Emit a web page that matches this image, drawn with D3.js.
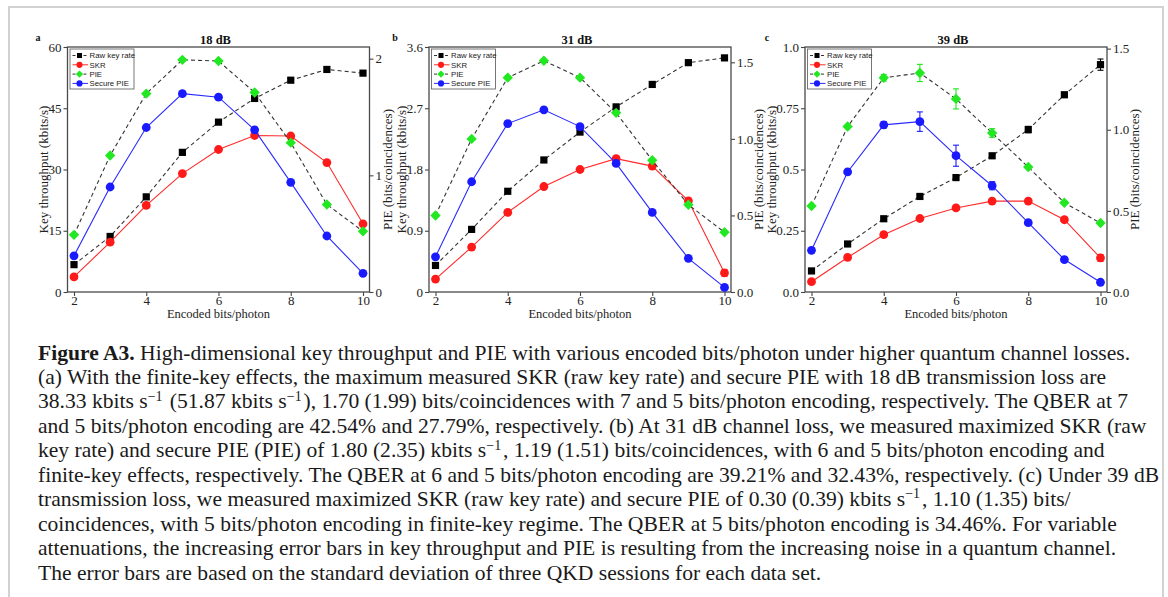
<!DOCTYPE html>
<html>
<head>
<meta charset="utf-8">
<script src="https://cdn.jsdelivr.net/npm/d3@7"></script>
<style>
  html, body { margin: 0; padding: 0; background: #fff; }
  svg { display: block; }
</style>
</head>
<body>
<svg id="fig" width="1168" height="597"></svg>
<script>
// Encoded bits per photon (shared x values)
const bits = [2, 3, 4, 5, 6, 7, 8, 9, 10];
const xTicks = [2, 4, 6, 8, 10];
const seriesNames = ["Raw key rate", "SKR", "PIE", "Secure PIE"];

// (a) 18 dB — key throughput in kbits/s, PIE in bits/coincidences
const rawA  = [6.7, 13.6, 23.3, 34.2, 41.6, 47.4, 51.87, 54.5, 53.6];
const skrA  = [3.7, 12.2, 21.2, 29.0, 34.9, 38.33, 38.2, 31.7, 16.7];
const pieA  = [0.49, 1.17, 1.70, 1.99, 1.98, 1.71, 1.28, 0.75, 0.52];
const spieA = [0.31, 0.90, 1.41, 1.70, 1.67, 1.39, 0.94, 0.48, 0.16];
const rawErrA  = [0, 0, 0, 0, 0, 0, 0, 0, 0];
const skrErrA  = [0, 0, 0, 0, 0, 0, 0, 0, 0];
const pieErrA  = [0, 0, 0, 0, 0, 0, 0, 0, 0];
const spieErrA = [0, 0, 0, 0, 0, 0, 0, 0, 0];
const leftTicksA  = [0, 15, 30, 45, 60];
const rightTicksA = [0, 1, 2];

// (b) 31 dB
const rawB  = [0.39, 0.92, 1.48, 1.94, 2.35, 2.72, 3.05, 3.37, 3.44];
const skrB  = [0.19, 0.66, 1.17, 1.55, 1.80, 1.96, 1.85, 1.34, 0.28];
const pieB  = [0.50, 1.00, 1.40, 1.51, 1.40, 1.17, 0.86, 0.57, 0.39];
const spieB = [0.23, 0.72, 1.10, 1.19, 1.08, 0.84, 0.52, 0.22, 0.03];
const rawErrB  = [0, 0, 0, 0, 0, 0, 0, 0, 0];
const skrErrB  = [0, 0, 0, 0, 0, 0.035, 0, 0.04, 0.05];
const pieErrB  = [0, 0, 0, 0, 0, 0, 0, 0, 0];
const spieErrB = [0, 0, 0, 0.016, 0, 0, 0, 0, 0];
const leftTicksB  = [0, 0.9, 1.8, 2.7, 3.6];
const rightTicksB = [0, 0.5, 1.0, 1.5];

// (c) 39 dB
const rawC  = [0.086, 0.196, 0.299, 0.39, 0.467, 0.556, 0.663, 0.805, 0.928];
const skrC  = [0.042, 0.141, 0.234, 0.30, 0.343, 0.371, 0.371, 0.295, 0.139];
const pieC  = [0.53, 1.02, 1.32, 1.35, 1.19, 0.98, 0.77, 0.55, 0.425];
const spieC = [0.257, 0.74, 1.03, 1.05, 0.84, 0.655, 0.427, 0.20, 0.06];
const rawErrC  = [0, 0, 0, 0, 0, 0, 0.013, 0.01, 0.023];
const skrErrC  = [0, 0, 0, 0, 0, 0, 0.01, 0.008, 0.014];
const pieErrC  = [0, 0, 0.02, 0.053, 0.062, 0.027, 0, 0, 0];
const spieErrC = [0, 0, 0.02, 0.06, 0.065, 0.025, 0, 0, 0];
const leftTicksC  = [0, 0.25, 0.5, 0.75, 1.0];
const rightTicksC = [0, 0.5, 1.0, 1.5];

// Caption, one entry per printed line; "^-1" marks a superscript −1
const captionLines = [
  "High-dimensional key throughput and PIE with various encoded bits/photon under higher quantum channel losses.",
  "(a) With the finite-key effects, the maximum measured SKR (raw key rate) and secure PIE with 18 dB transmission loss are",
  "38.33 kbits s^-1 (51.87 kbits s^-1), 1.70 (1.99) bits/coincidences with 7 and 5 bits/photon encoding, respectively. The QBER at 7",
  "and 5 bits/photon encoding are 42.54% and 27.79%, respectively. (b) At 31 dB channel loss, we measured maximized SKR (raw",
  "key rate) and secure PIE (PIE) of 1.80 (2.35) kbits s^-1, 1.19 (1.51) bits/coincidences, with 6 and 5 bits/photon encoding and",
  "finite-key effects, respectively. The QBER at 6 and 5 bits/photon encoding are 39.21% and 32.43%, respectively. (c) Under 39 dB",
  "transmission loss, we measured maximized SKR (raw key rate) and secure PIE of 0.30 (0.39) kbits s^-1, 1.10 (1.35) bits/",
  "coincidences, with 5 bits/photon encoding in finite-key regime. The QBER at 5 bits/photon encoding is 34.46%. For variable",
  "attenuations, the increasing error bars in key throughput and PIE is resulting from the increasing noise in a quantum channel.",
  "The error bars are based on the standard deviation of three QKD sessions for each data set."
];
const captionLead = "Figure A3.";

const SERIF = "'Liberation Serif', 'Times New Roman', serif";
const SANS = "'Liberation Sans', Arial, sans-serif";

const svg = d3.select("#fig");

// outer figure box
svg.append("rect")
  .attr("x", 9).attr("y", 7).attr("width", 1154).attr("height", 610)
  .attr("fill", "#fff").attr("stroke", "#d2d2d2").attr("stroke-width", 2);

const panels = [
  { letter: "a", letterX: 38, title: "18 dB", left: 67.5,
    leftMax: 60, rightMax: 2.1, leftTicks: leftTicksA, rightTicks: rightTicksA,
    leftFmt: d3.format("d"), rightFmt: d3.format("d"),
    data: [rawA, skrA, pieA, spieA], err: [rawErrA, skrErrA, pieErrA, spieErrA] },
  { letter: "b", letterX: 395, title: "31 dB", left: 429,
    leftMax: 3.6, rightMax: 1.6, leftTicks: leftTicksB, rightTicks: rightTicksB,
    leftFmt: d => d === 0 ? "0" : d3.format(".1f")(d), rightFmt: d3.format(".1f"),
    data: [rawB, skrB, pieB, spieB], err: [rawErrB, skrErrB, pieErrB, spieErrB] },
  { letter: "c", letterX: 767, title: "39 dB", left: 805,
    leftMax: 1.0, rightMax: 1.51, leftTicks: leftTicksC, rightTicks: rightTicksC,
    leftFmt: d => (d === 0.25 || d === 0.75) ? d3.format(".2f")(d) : d3.format(".1f")(d),
    rightFmt: d3.format(".1f"),
    data: [rawC, skrC, pieC, spieC], err: [rawErrC, skrErrC, pieErrC, spieErrC] }
];

const PW = 302, TOP = 47, BOTTOM = 292;
const TICK = 4, PAD = 2;

// series appearance: which axis, line style, marker
const styles = [
  { axis: "left",  stroke: "#333", dash: "4,3", marker: "square",  fill: "#000" },
  { axis: "left",  stroke: "#ff2a2a", dash: null, marker: "circle", fill: "#ff1a1a" },
  { axis: "right", stroke: "#333", dash: "4,3", marker: "diamond", fill: "#22e822" },
  { axis: "right", stroke: "#2a2aff", dash: null, marker: "circle", fill: "#1a1aff" }
];

function drawMarker(g, kind, cx, cy, fill, s) {
  if (kind === "square") {
    g.append("rect").attr("x", cx - s * 0.45).attr("y", cy - s * 0.45)
      .attr("width", s * 0.9).attr("height", s * 0.9).attr("fill", fill);
  } else if (kind === "circle") {
    g.append("circle").attr("cx", cx).attr("cy", cy).attr("r", s * 0.55).attr("fill", fill);
  } else {
    const r = s * 0.65;
    g.append("path")
      .attr("d", `M${cx},${cy - r}L${cx + r},${cy}L${cx},${cy + r}L${cx - r},${cy}Z`)
      .attr("fill", fill);
  }
}

panels.forEach(p => {
  const right = p.left + PW;
  const x = d3.scaleLinear().domain([1.82, 10.18]).range([p.left, right]);
  const yL = d3.scaleLinear().domain([0, p.leftMax]).range([BOTTOM, TOP]);
  const yR = d3.scaleLinear().domain([0, p.rightMax]).range([BOTTOM, TOP]);
  const g = svg.append("g");

  g.append("rect").attr("x", p.left).attr("y", TOP)
    .attr("width", PW).attr("height", BOTTOM - TOP).attr("fill", "#fff");

  // axes
  const styleAxis = sel => {
    sel.select(".domain").remove();
    sel.selectAll(".tick line").attr("stroke", "#444").attr("stroke-width", 1.1);
    sel.selectAll(".tick text").attr("fill", "#222")
      .style("font-family", SERIF).style("font-size", "13px");
  };
  g.append("g").attr("transform", `translate(0,${BOTTOM})`)
    .call(d3.axisBottom(x).tickValues(xTicks).tickFormat(d3.format("d"))
      .tickSize(TICK).tickPadding(0)).call(styleAxis);
  const al = g.append("g").attr("transform", `translate(${p.left},0)`)
    .call(d3.axisLeft(yL).tickValues(p.leftTicks).tickFormat(p.leftFmt)
      .tickSize(TICK).tickPadding(PAD)).call(styleAxis);
  const ar = g.append("g").attr("transform", `translate(${right},0)`)
    .call(d3.axisRight(yR).tickValues(p.rightTicks).tickFormat(p.rightFmt)
      .tickSize(TICK).tickPadding(PAD)).call(styleAxis);

  const maxW = sel => d3.max(sel.selectAll(".tick text").nodes(), n => n.getComputedTextLength());

  // frame
  g.append("rect").attr("x", p.left).attr("y", TOP)
    .attr("width", PW).attr("height", BOTTOM - TOP)
    .attr("fill", "none").attr("stroke", "#4a4a4a").attr("stroke-width", 1.3);

  // axis titles
  const lx = p.left - TICK - PAD - maxW(al) - 5;
  g.append("text").attr("transform", `translate(${lx},${(TOP + BOTTOM) / 2}) rotate(-90)`)
    .attr("text-anchor", "middle").attr("dy", "0.35em")
    .style("font-family", SERIF).style("font-size", "13px").attr("fill", "#222")
    .text("Key throughput (kbits/s)");
  const rx = right + TICK + PAD + maxW(ar) + 5;
  g.append("text").attr("transform", `translate(${rx},${(TOP + BOTTOM) / 2}) rotate(-90)`)
    .attr("text-anchor", "middle").attr("dy", "0.35em")
    .style("font-family", SERIF).style("font-size", "13px").attr("fill", "#222")
    .text("PIE (bits/coincidences)");
  g.append("text").attr("x", (p.left + right) / 2).attr("y", 318)
    .attr("text-anchor", "middle")
    .style("font-family", SERIF).style("font-size", "12.5px").attr("fill", "#222")
    .text("Encoded bits/photon");

  // panel title and letter
  g.append("text").attr("x", (p.left + right) / 2 - 3).attr("y", 43.5)
    .attr("text-anchor", "middle").style("font-family", SERIF)
    .style("font-size", "12.5px").style("font-weight", "bold").attr("fill", "#111")
    .text(p.title);
  g.append("text").attr("x", p.letterX).attr("y", 40.5)
    .attr("text-anchor", "middle").style("font-family", SERIF)
    .style("font-size", "10px").style("font-weight", "bold").attr("fill", "#111")
    .text(p.letter);

  // series
  styles.forEach((st, i) => {
    const y = st.axis === "left" ? yL : yR;
    const vals = p.data[i], errs = p.err[i];
    const line = d3.line().x((d, k) => x(bits[k])).y(d => y(d));
    g.append("path").datum(vals).attr("d", line)
      .attr("fill", "none").attr("stroke", st.stroke).attr("stroke-width", 1.1)
      .attr("stroke-dasharray", st.dash);
    vals.forEach((v, k) => {
      const e = errs[k];
      if (e > 0) {
        const cx = x(bits[k]), y0 = y(v - e), y1 = y(v + e);
        const eg = g.append("g").attr("stroke", st.fill).attr("stroke-width", 1.1);
        eg.append("line").attr("x1", cx).attr("x2", cx).attr("y1", y0).attr("y2", y1);
        eg.append("line").attr("x1", cx - 3).attr("x2", cx + 3).attr("y1", y0).attr("y2", y0);
        eg.append("line").attr("x1", cx - 3).attr("x2", cx + 3).attr("y1", y1).attr("y2", y1);
      }
    });
    vals.forEach((v, k) => drawMarker(g, st.marker, x(bits[k]), y(v), st.fill, 8));
  });

  // legend
  const lg = g.append("g").attr("transform", `translate(${p.left + 2.5},49)`);
  lg.append("rect").attr("width", 64).attr("height", 40)
    .attr("fill", "#fff").attr("stroke", "#555").attr("stroke-width", 0.8);
  styles.forEach((st, i) => {
    const yy = 6.5 + i * 9.3;
    lg.append("line").attr("x1", 2.5).attr("x2", 18).attr("y1", yy).attr("y2", yy)
      .attr("stroke", st.dash ? "#333" : st.stroke).attr("stroke-width", 1)
      .attr("stroke-dasharray", st.dash ? "3,2.5" : null);
    drawMarker(lg, st.marker, 9.5, yy, st.fill, 5.6);
    lg.append("text").attr("x", 19.5).attr("y", yy).attr("dy", "0.35em")
      .style("font-family", SANS).style("font-size", "7.8px").attr("fill", "#222")
      .text(seriesNames[i]);
  });
});

// caption
const cap = svg.append("g").style("font-family", SERIF).attr("fill", "#1a1a1a");
function writeLine(textSel, str) {
  const parts = str.split("^-1");
  parts.forEach((part, i) => {
    if (part.length) textSel.append("tspan").text(part);
    if (i < parts.length - 1) {
      // raised by 0.55 of its own (0.65em) size, then back down by the same amount
      textSel.append("tspan").attr("dy", "-0.55em").style("font-size", "0.65em").text("\u2212" + "1");
      textSel.append("tspan").attr("dy", "0.3575em").text("\u200a");
    }
  });
}
let fs = 20;
const lines = captionLines.map((str, i) => {
  const t = cap.append("text").attr("x", 38).attr("y", 359.5 + i * 24.45)
    .style("font-size", fs + "px");
  if (i === 0) {
    t.append("tspan").style("font-weight", "bold").text(captionLead + " ");
  }
  writeLine(t, str);
  return t;
});
// size the caption so the first line spans the text block
const w0 = lines[0].node().getComputedTextLength();
fs = fs * 1093 / w0;
lines.forEach(t => t.style("font-size", fs + "px"));
</script>
</body>
</html>
